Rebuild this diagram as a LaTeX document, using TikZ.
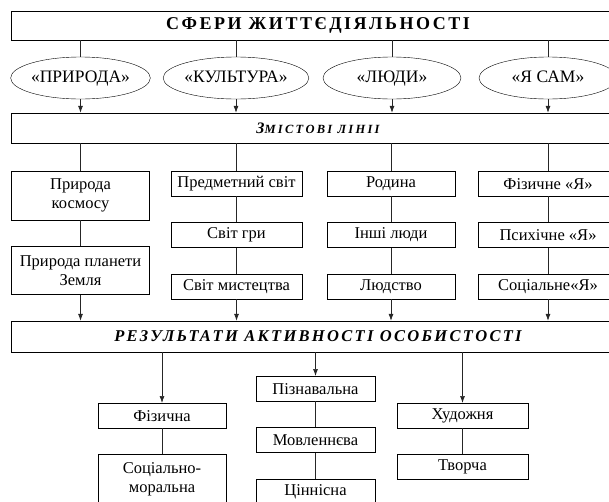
\documentclass[tikz,border=0pt]{standalone}
\usepackage{fontspec}
\setmainfont{Liberation Serif}
\newfontfamily\spacedfont[LetterSpace=14]{Liberation Serif}
\newfontfamily\widefont[LetterSpace=18]{Liberation Serif}
\usetikzlibrary{arrows.meta,positioning,shapes.geometric}

\begin{document}
\begin{tikzpicture}[
        x=1pt, y=-1pt,
        node distance=26pt,
        bar/.style={draw, minimum width=613pt, inner sep=0pt},
        oval/.style={draw, ellipse, minimum width=138pt, minimum height=42pt,
                     inner sep=0pt, text height=12pt, text depth=3pt,
                     font=\fontsize{17.5}{19}\selectfont},
        box/.style={draw, align=center, minimum height=25pt, inner sep=0pt,
                    font=\fontsize{16.5}{19}\selectfont},
        ln/.style={line width=0.7pt, black!85},
        arr/.style={ln, -{Latex[length=7pt,width=5pt]}},
    ]
        \useasboundingbox (0,0) rectangle (609,501);
        \clip (0,0) rectangle (609,501);

        % spheres
        \node[bar, minimum height=29pt] (sfery) at (318,25.5)
            {\spacedfont\bfseries\fontsize{18}{20}\selectfont СФЕРИ ЖИТТЄДІЯЛЬНОСТІ};
        \node[oval] (pryroda) at (80.5,78) {«ПРИРОДА»};
        \node[oval] (kultura) at (236,78) {«КУЛЬТУРА»};
        \node[oval] (liudy) at (392,78) {«ЛЮДИ»};
        \node[oval] (yasam) at (548,78) {«Я САМ»};

        % content lines
        \node[bar, minimum height=30pt] (zmist) at (318,128)
            {\widefont\bfseries\itshape\fontsize{16}{19}\selectfont З\fontsize{12.5}{14}\selectfont МІСТОВІ ЛІНІІ};

        \node[box, minimum width=138pt, minimum height=49pt, anchor=north] (kosmos) at (80.5,171) {Природа\\космосу};
        \node[box, minimum width=138pt, minimum height=48pt, below=of kosmos] (zemlia) {Природа планети\\Земля};

        \node[box, minimum width=131pt, anchor=north] (predmet) at (236.5,171) {Предметний світ};
        \node[box, minimum width=131pt, below=of predmet] (hra) {Світ гри};
        \node[box, minimum width=131pt, below=of hra] (mystets) {Світ мистецтва};

        \node[box, minimum width=128pt, anchor=north] (rodyna) at (391,171) {Родина};
        \node[box, minimum width=128pt, below=of rodyna] (inshi) {Інші люди};
        \node[box, minimum width=128pt, below=of inshi] (liudstvo) {Людство};

        \node[box, minimum width=140pt, anchor=north] (fizychne) at (548,171) {Фізичне «Я»};
        \node[box, minimum width=140pt, below=of fizychne] (psykhichne) {Психічне «Я»};
        \node[box, minimum width=140pt, below=of psykhichne] (sotsialne) {Соціальне«Я»};

        % results
        \node[bar, minimum height=31pt] (rezult) at (318,336.5)
            {\spacedfont\bfseries\itshape\fontsize{16.5}{20}\selectfont РЕЗУЛЬТАТИ АКТИВНОСТІ ОСОБИСТОСТІ};

        \node[box, minimum width=119pt, anchor=north] (piznav) at (315.5,376) {Пізнавальна};
        \node[box, minimum width=119pt, below=of piznav] (movlen) {Мовленнєва};
        \node[box, minimum width=119pt, below=of movlen] (tsinnis) {Ціннісна};

        \node[box, minimum width=128pt, anchor=north] (fizychna) at (162,403) {Фізична};
        \node[box, minimum width=128pt, minimum height=50pt, below=of fizychna] (sotsmoral) {Соціально-\\моральна};

        \node[box, minimum width=131pt, anchor=north] (khudozh) at (462.5,403) {Художня};
        \node[box, minimum width=131pt, below=of khudozh] (tvorcha) {Творча};

        % connectors
        \foreach \n in {pryroda, kultura, liudy, yasam} {
            \draw[ln] (\n |- sfery.south) -- (\n);
            \draw[arr] (\n) -- (\n |- zmist.north);
        }
        \foreach \n in {kosmos, predmet, rodyna, fizychne}
            \draw[ln] (\n |- zmist.south) -- (\n);
        \draw[ln] (kosmos) -- (zemlia);
        \draw[ln] (predmet) -- (hra);
        \draw[ln] (hra) -- (mystets);
        \draw[ln] (rodyna) -- (inshi);
        \draw[ln] (inshi) -- (liudstvo);
        \draw[ln] (fizychne) -- (psykhichne);
        \draw[ln] (psykhichne) -- (sotsialne);
        \foreach \n in {zemlia, mystets, liudstvo, sotsialne}
            \draw[arr] (\n) -- (\n |- rezult.north);

        \foreach \n in {fizychna, piznav, khudozh}
            \draw[arr] (\n |- rezult.south) -- (\n);
        \draw[ln] (fizychna) -- (sotsmoral);
        \draw[ln] (piznav) -- (movlen);
        \draw[ln] (movlen) -- (tsinnis);
        \draw[ln] (khudozh) -- (tvorcha);
    \end{tikzpicture}
\end{document}
